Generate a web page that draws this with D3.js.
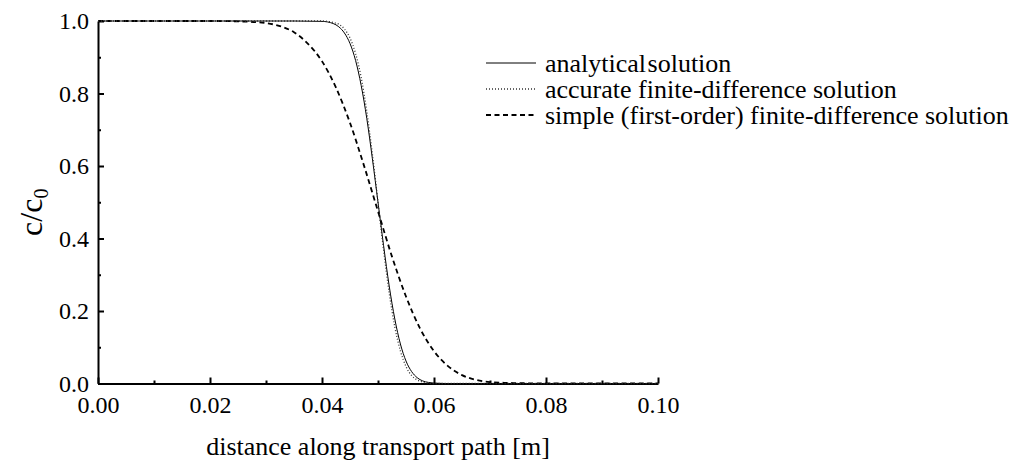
<!DOCTYPE html>
<html>
<head>
<meta charset="utf-8">
<script src="https://cdn.jsdelivr.net/npm/d3@7"></script>
<style>
  body { margin: 0; background: #fff; }
</style>
</head>
<body>
<div id="chart"></div>
<script>
// values
const distFine = [0, 0.02, 0.035, 0.040, 0.042, 0.043, 0.044, 0.045, 0.046, 0.047, 0.048, 0.049, 0.050,
  0.051, 0.052, 0.053, 0.054, 0.055, 0.056, 0.057, 0.058, 0.059, 0.060, 0.062, 0.07, 0.1];
const analytical = [1, 1, 1, 0.999, 0.993, 0.984, 0.967, 0.938, 0.891, 0.822, 0.731, 0.62, 0.5,
  0.38, 0.269, 0.178, 0.109, 0.062, 0.033, 0.016, 0.007, 0.003, 0.001, 0, 0, 0];
const accurateFD = [1, 1, 1, 1, 0.996, 0.991, 0.978, 0.953, 0.910, 0.844, 0.75, 0.632, 0.5,
  0.368, 0.25, 0.156, 0.09, 0.047, 0.022, 0.01, 0.004, 0.001, 0, 0, 0, 0];

const distSimple = [0, 0.02, 0.025, 0.03, 0.0325, 0.035, 0.0375, 0.04, 0.0425, 0.045, 0.0475, 0.05,
  0.0525, 0.055, 0.0575, 0.06, 0.0625, 0.065, 0.0675, 0.07, 0.0725, 0.075, 0.08, 0.1];
const simpleFD = [1, 1, 0.999, 0.994, 0.986, 0.969, 0.937, 0.889, 0.816, 0.719, 0.601, 0.475,
  0.35, 0.24, 0.152, 0.089, 0.048, 0.023, 0.010, 0.004, 0.002, 0.001, 0, 0];

const xTicks = [0, 0.02, 0.04, 0.06, 0.08, 0.10];
const xMinor = [0.01, 0.03, 0.05, 0.07, 0.09];
const yTicks = [0, 0.2, 0.4, 0.6, 0.8, 1.0];
const yMinor = [0.1, 0.3, 0.5, 0.7, 0.9];

const legendLabels = ["analytical solution", "accurate finite-difference solution",
  "simple (first-order) finite-difference solution"];

const FONT = '"Liberation Serif", "Times New Roman", serif';
const width = 1028, height = 464;
const margin = { left: 98, top: 21, right: 370, bottom: 80.5 };

const svg = d3.select("#chart").append("svg")
  .attr("width", width)
  .attr("height", height);

const x = d3.scaleLinear().domain([0, 0.1]).range([margin.left, width - margin.right]);
const y = d3.scaleLinear().domain([0, 1]).range([height - margin.bottom, margin.top]);

// axes, ticks pointing inward
svg.append("g")
  .attr("transform", `translate(0,${y(0)})`)
  .call(d3.axisBottom(x).tickValues(xTicks).tickFormat(d3.format(".2f"))
    .tickSizeInner(-6).tickSizeOuter(0).tickPadding(12));
svg.append("g")
  .attr("transform", `translate(0,${y(0)})`)
  .call(d3.axisBottom(x).tickValues(xMinor).tickFormat("").tickSizeInner(-3).tickSizeOuter(0))
  .select(".domain").remove();

svg.append("g")
  .attr("transform", `translate(${x(0)},0)`)
  .call(d3.axisLeft(y).tickValues(yTicks).tickFormat(d3.format(".1f"))
    .tickSizeInner(-6).tickSizeOuter(0).tickPadding(9));
svg.append("g")
  .attr("transform", `translate(${x(0)},0)`)
  .call(d3.axisLeft(y).tickValues(yMinor).tickFormat("").tickSizeInner(-3).tickSizeOuter(0))
  .select(".domain").remove();

svg.selectAll(".domain").attr("stroke", "#000").attr("stroke-width", 2);
svg.selectAll(".tick line").attr("stroke", "#000").attr("stroke-width", 2);
svg.selectAll(".tick text")
  .style("font-family", FONT)
  .attr("font-size", 24)
  .attr("fill", "#000");

// axis titles
svg.append("text")
  .attr("x", (x(0) + x(0.1)) / 2)
  .attr("y", 455)
  .attr("text-anchor", "middle")
  .style("font-family", FONT)
  .attr("font-size", 26)
  .text("distance along transport path [m]");

const yTitle = svg.append("text")
  .attr("transform", `translate(42,${(y(0) + y(1)) / 2 + 10}) rotate(-90)`)
  .attr("text-anchor", "middle")
  .style("font-family", FONT)
  .attr("font-size", 32);
yTitle.append("tspan").text("c/c");
yTitle.append("tspan").attr("font-size", 20).attr("dy", 6).text("0");

// curves
const line = (xs) => d3.line()
  .x((d, i) => x(xs[i]))
  .y(d => y(d))
  .curve(d3.curveMonotoneX);

const styles = [
  { stroke: "#000", width: 1, dash: null },
  { stroke: "#333", width: 1.3, dash: "1,2" },
  { stroke: "#000", width: 1.8, dash: "5,3.5" }
];

const series = [
  { xs: distSimple, ys: simpleFD, s: styles[2] },
  { xs: distFine, ys: analytical, s: styles[0] },
  { xs: distFine, ys: accurateFD, s: styles[1] }
];

series.forEach(d => {
  svg.append("path")
    .datum(d.ys)
    .attr("d", line(d.xs))
    .attr("fill", "none")
    .attr("stroke", d.s.stroke)
    .attr("stroke-width", d.s.width)
    .attr("stroke-dasharray", d.s.dash);
});

// legend
const legend = svg.append("g").attr("transform", "translate(486,63)");
legendLabels.forEach((label, i) => {
  const g = legend.append("g").attr("transform", `translate(0,${i * 26})`);
  g.append("line")
    .attr("x1", 0).attr("x2", 50)
    .attr("stroke", styles[i].stroke)
    .attr("stroke-width", styles[i].width)
    .attr("stroke-dasharray", styles[i].dash);
  g.append("text")
    .attr("x", 59)
    .attr("dy", "0.33em")
    .style("font-family", FONT)
    .attr("font-size", 26)
    .attr("word-spacing", i === 0 ? -5 : 0)
    .text(label);
});
</script>
</body>
</html>
